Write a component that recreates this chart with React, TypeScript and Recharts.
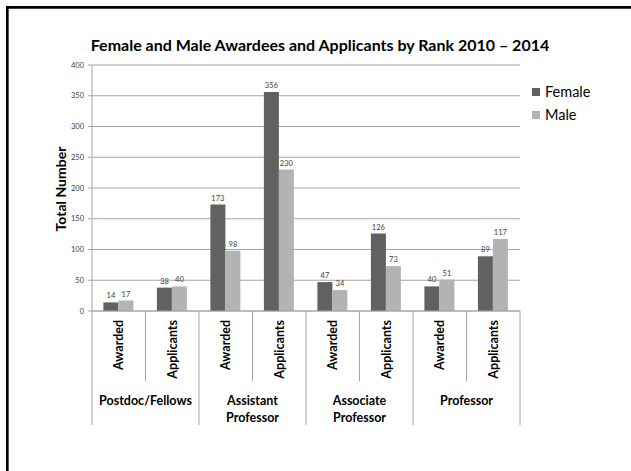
import React from 'react';
import { BarChart, Bar, XAxis, YAxis, CartesianGrid, LabelList, Legend } from 'recharts';

const categories = ['Awarded', 'Applicants', 'Awarded', 'Applicants', 'Awarded', 'Applicants', 'Awarded', 'Applicants'];
const groupLabels: string[][] = [['Postdoc/Fellows'], ['Assistant', 'Professor'], ['Associate', 'Professor'], ['Professor']];
const femaleValues = [14, 38, 173, 356, 47, 126, 40, 89];
const maleValues = [17, 40, 98, 230, 34, 73, 51, 117];
const yTicks = [0, 50, 100, 150, 200, 250, 300, 350, 400];
const seriesNames = ['Female', 'Male'];

const data = categories.map((c, i) => ({ key: String(i), label: c, Female: femaleValues[i], Male: maleValues[i] }));

const W = 631;
const H = 471;
const M_LEFT = 0;
const Y_AXIS_W = 92;
const M_RIGHT = 111;
const M_TOP = 65;
const X_AXIS_H = 160;
const PLOT_W = W - M_LEFT - Y_AXIS_W - M_RIGHT;
const BAND = PLOT_W / categories.length;

const FONT = 'Lato, "Open Sans", sans-serif';
const LINE = '#a6a6a6';
const FEMALE = '#616161';
const MALE = '#b3b3b3';
const TEXT = '#000000';
const LABEL = '#404040';

const XTick = (props: any) => {
  const { x, y, index } = props;
  const half = BAND / 2;
  const left = x - half;
  const right = x + half;
  const isGroupStart = index % 2 === 0;
  const isLast = index === categories.length - 1;
  const group = groupLabels[Math.floor(index / 2)];
  return (
    <g>
      {isGroupStart && <line x1={left} x2={left} y1={y} y2={y + 114} stroke={LINE} strokeWidth={1} />}
      {!isGroupStart && <line x1={left} x2={left} y1={y} y2={y + 70} stroke={LINE} strokeWidth={1} />}
      {isLast && <line x1={right} x2={right} y1={y} y2={y + 114} stroke={LINE} strokeWidth={1} />}
      <text
        x={x}
        y={y + 9}
        transform={`rotate(-90, ${x}, ${y + 9})`}
        textAnchor="end"
        dominantBaseline="central"
        fontFamily={FONT}
        fontWeight="bold"
        fontSize={12.5}
        fill={TEXT}
      >
        {categories[index]}
      </text>
      {!isGroupStart && group && group.map((line, li) => (
        <text
          key={li}
          x={left}
          y={y + 89 + li * 17}
          textAnchor="middle"
          dominantBaseline="central"
          fontFamily={FONT}
          fontWeight="bold"
          fontSize={12.5}
          fill={TEXT}
        >
          {line}
        </text>
      ))}
    </g>
  );
};

const YLabel = () => {
  const cx = 60;
  const cy = 189;
  return (
    <text
      x={cx}
      y={cy}
      transform={`rotate(-90, ${cx}, ${cy})`}
      textAnchor="middle"
      dominantBaseline="central"
      fontFamily={FONT}
      fontWeight="bold"
      fontSize={14}
      fill={TEXT}
    >
      Total Number
    </text>
  );
};

const LegendContent = (props: any) => {
  const payload = props.payload || [];
  return (
    <div style={{ fontFamily: FONT, fontSize: 14.5, color: '#000' }}>
      {payload.map((p: any, i: number) => (
        <div key={i} style={{ display: 'flex', alignItems: 'center', height: 23 }}>
          <span style={{ display: 'inline-block', width: 8, height: 8, background: p.color, marginRight: 5 }} />
          <span>{p.value}</span>
        </div>
      ))}
    </div>
  );
};

export default function App() {
  return (
    <div style={{ position: 'absolute', left: 0, top: 0, width: W, height: H, background: '#fff' }}>
      <BarChart
        width={W}
        height={H}
        data={data}
        margin={{ top: M_TOP, right: M_RIGHT, left: M_LEFT, bottom: 0 }}
        barCategoryGap="21.3%"
        barGap={0}
      >
        <CartesianGrid vertical={false} stroke={LINE} strokeWidth={1} />
        <XAxis
          dataKey="key"
          height={X_AXIS_H}
          interval={0}
          tickLine={false}
          tickSize={0}
          tickMargin={0}
          axisLine={{ stroke: LINE }}
          tick={<XTick />}
        />
        <YAxis
          width={Y_AXIS_W}
          domain={[0, 400]}
          ticks={yTicks}
          interval={0}
          axisLine={{ stroke: LINE }}
          tickLine={{ stroke: LINE }}
          tickSize={4}
          tickMargin={4}
          tick={{ fontFamily: FONT, fontSize: 7.5, fill: LABEL }}
          label={<YLabel />}
        />
        <Legend
          layout="horizontal"
          verticalAlign="middle"
          align="center"
          wrapperStyle={{ left: 532, top: 80, width: 95 }}
          content={<LegendContent />}
        />
        <Bar dataKey="Female" name={seriesNames[0]} fill={FEMALE} isAnimationActive={false}>
          <LabelList dataKey="Female" position="top" offset={4} fill={LABEL} fontFamily={FONT} fontSize={7.5} />
        </Bar>
        <Bar dataKey="Male" name={seriesNames[1]} fill={MALE} isAnimationActive={false}>
          <LabelList dataKey="Male" position="top" offset={4} fill={LABEL} fontFamily={FONT} fontSize={7.5} />
        </Bar>
      </BarChart>
      <svg width={W} height={H} style={{ position: 'absolute', left: 0, top: 0, pointerEvents: 'none' }}>
        <line x1={6} x2={W} y1={7.3} y2={7.3} stroke="#000" strokeWidth={2.7} />
        <line x1={7.3} x2={7.3} y1={6} y2={H} stroke="#000" strokeWidth={2.7} />
        <text
          x={320}
          y={44}
          textAnchor="middle"
          dominantBaseline="central"
          fontFamily={FONT}
          fontWeight="bold"
          fontSize={16}
          fill={TEXT}
        >
          Female and Male Awardees and Applicants by Rank 2010 – 2014
        </text>
      </svg>
    </div>
  );
}
